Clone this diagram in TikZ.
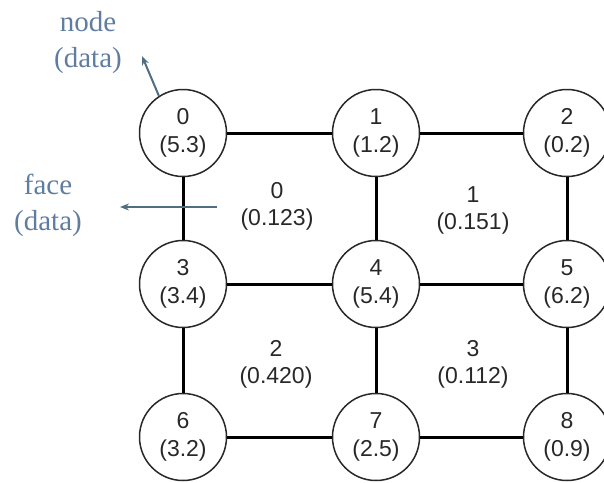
\documentclass[tikz,border=0pt]{standalone}
\usepackage{fontspec}
\usetikzlibrary{arrows.meta}
\setmainfont{Liberation Serif}
\newfontfamily\arialfont{Liberation Sans}
\definecolor{annot}{RGB}{95,125,160}
\definecolor{arrowc}{RGB}{80,110,130}
\definecolor{txt}{RGB}{40,40,40}
\begin{document}
\begin{tikzpicture}[x=1pt,y=-1pt,
  vtx/.style={circle,draw=txt,line width=1.5pt,minimum size=87pt,inner sep=0pt,
    align=center,font=\arialfont\fontsize{23}{28}\selectfont,text=txt},
  facelbl/.style={align=center,font=\arialfont\fontsize{23}{27}\selectfont,text=txt},
  edge/.style={line width=3pt,black},
  annotlbl/.style={align=center,font=\fontsize{29}{36}\selectfont,text=annot},
  annotarrow/.style={line width=2pt,arrowc,-{Stealth[length=9pt,width=7pt]}}]
\useasboundingbox (0,0) rectangle (604,482);
\node[vtx] (n0) at (183,133) {0\\(5.3)};
\node[vtx] (n1) at (376,133) {1\\(1.2)};
\node[vtx] (n2) at (567,133) {2\\(0.2)};
\node[vtx] (n3) at (183,284) {3\\(3.4)};
\node[vtx] (n4) at (376,284) {4\\(5.4)};
\node[vtx] (n5) at (567,284) {5\\(6.2)};
\node[vtx] (n6) at (183,437) {6\\(3.2)};
\node[vtx] (n7) at (376,437) {7\\(2.5)};
\node[vtx] (n8) at (567,437) {8\\(0.9)};
\draw[edge] (n0) -- (n1);
\draw[edge] (n1) -- (n2);
\draw[edge] (n3) -- (n4);
\draw[edge] (n4) -- (n5);
\draw[edge] (n6) -- (n7);
\draw[edge] (n7) -- (n8);
\draw[edge] (n0) -- (n3);
\draw[edge] (n3) -- (n6);
\draw[edge] (n1) -- (n4);
\draw[edge] (n4) -- (n7);
\draw[edge] (n2) -- (n5);
\draw[edge] (n5) -- (n8);
\node[facelbl] (f0) at (277,206) {0\\(0.123)};
\node[facelbl] (f1) at (473,210) {1\\(0.151)};
\node[facelbl] (f2) at (276,364) {2\\(0.420)};
\node[facelbl] (f3) at (473,364) {3\\(0.112)};
\node[annotlbl] (nodelbl) at (88,43) {node\\(data)};
\node[annotlbl] (facedata) at (48,205) {face\\(data)};
\coordinate (fs) at (217,207);
\coordinate (fe) at (120,207);
\draw[annotarrow] (fs) -- (fe);
\coordinate (ne) at (142,56);
\draw[annotarrow] (n0.123) -- (ne);
\end{tikzpicture}
\end{document}
